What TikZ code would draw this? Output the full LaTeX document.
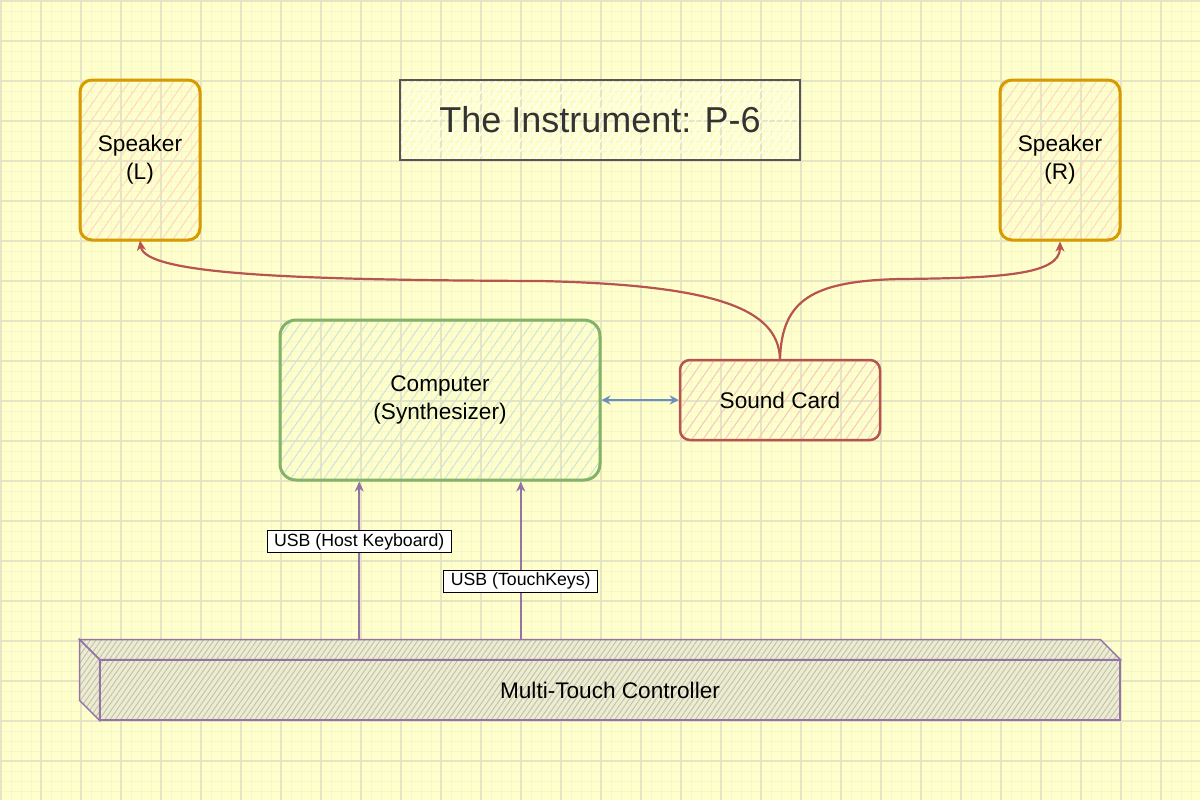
\documentclass[tikz,border=0pt]{standalone}
\usepackage{fontspec}
\setmainfont{Liberation Sans}
\usetikzlibrary{arrows.meta,patterns.meta,calc}

\definecolor{paper}{HTML}{FFFFCC}
\definecolor{gridmaj}{HTML}{E5E5C3}
\definecolor{gridmin}{HTML}{F6F6CB}
\definecolor{spkline}{HTML}{D79B00}
\definecolor{spkhatch}{HTML}{FFD6C8}
\definecolor{pcline}{HTML}{82B366}
\definecolor{pchatch}{HTML}{CBE4DA}
\definecolor{sndline}{HTML}{B85450}
\definecolor{sndhatch}{HTML}{F6C6C4}
\definecolor{ctrlline}{HTML}{9673A6}
\definecolor{ctrlhatch}{HTML}{C2C29C}
\definecolor{ctrlfill}{HTML}{ECECD6}
\definecolor{linkblue}{HTML}{6C8EBF}
\definecolor{titleline}{HTML}{555555}
\definecolor{titletext}{HTML}{333333}

\tikzset{
  box/.style={rectangle, rounded corners=#1, align=center, inner sep=0pt,
    font=\fontsize{11.3}{14}\selectfont},
  speaker/.style={box=6pt, draw=spkline, line width=1.5pt,
    minimum width=60pt, minimum height=80pt,
    pattern={Lines[angle=55,distance=4.5pt,line width=0.5pt]}, pattern color=spkhatch},
  synth/.style={box=8pt, draw=pcline, line width=1.5pt,
    minimum width=160pt, minimum height=80pt,
    pattern={Lines[angle=55,distance=4.5pt,line width=0.5pt]}, pattern color=pchatch},
  soundcard/.style={box=5pt, draw=sndline, line width=1.25pt,
    minimum width=100pt, minimum height=40pt,
    pattern={Lines[angle=55,distance=4.5pt,line width=0.5pt]}, pattern color=sndhatch},
  titlebox/.style={box=0pt, draw=titleline, line width=0.75pt, text=titletext,
    minimum width=200pt, minimum height=40pt, font=\fontsize{18}{22}\selectfont,
    pattern={Lines[angle=55,distance=3pt,line width=0.6pt]}, pattern color=white!85!paper},
  cube/.style={draw=ctrlline, line width=0.75pt, preaction={fill=ctrlfill},
    pattern={Lines[angle=55,distance=2.2pt,line width=0.45pt]}, pattern color=ctrlhatch},
  usblabel/.style={draw=black, line width=0.5pt, fill=white, inner xsep=3.5pt,
    inner ysep=0pt, minimum height=11pt, font=\fontsize{8.85}{10.6}\selectfont},
  usb/.style={draw=ctrlline, line width=1pt, -{Stealth[length=5pt,width=4.5pt,inset=1.5pt]}},
  audio/.style={draw=sndline, line width=1.1pt, -{Stealth[length=5pt,width=4.5pt,inset=1.5pt]}},
  link/.style={draw=linkblue, line width=1pt,
    {Stealth[length=4.5pt,width=4.5pt,inset=1.5pt]}-{Stealth[length=4.5pt,width=4.5pt,inset=1.5pt]}},
}

\begin{document}
\begin{tikzpicture}[x=0.5pt, y=-0.5pt]

    % paper
    \useasboundingbox (0,0) rectangle (1200,800);
    \fill[paper] (0,0) rectangle (1200,800);
    \foreach \g in {1,11,...,1191} \draw[gridmin, line width=0.4pt] (\g,0) -- (\g,800);
    \foreach \g in {1,11,...,791} \draw[gridmin, line width=0.4pt] (0,\g) -- (1200,\g);
    \foreach \g in {1,41,...,1161} \draw[gridmaj, line width=0.6pt] (\g,0) -- (\g,800);
    \foreach \g in {1,41,...,761} \draw[gridmaj, line width=0.6pt] (0,\g) -- (1200,\g);

    % nodes
    \node[speaker] (spkL) at (140,160) {Speaker\\(L)};
    \node[speaker] (spkR) at (1060,160) {Speaker\\(R)};
    \node[titlebox] (title) at (600,120) {The Instrument: P-6};
    \node[synth] (comp) at (440,400) {Computer\\(Synthesizer)};
    \node[soundcard] (snd) at (780,400) {Sound Card};
    \node[cube, box=0pt, minimum width=510pt, minimum height=30pt] (ctrl) at (610,690) {Multi-Touch Controller};

    % controller depth (top and left faces)
    \coordinate (ctrlback) at ($(ctrl.north west)+(-20,-20)$);
    \path[cube] (ctrlback) -- ($(ctrl.north east)+(-20,-20)$) -- (ctrl.north east) -- (ctrl.north west) -- cycle;
    \path[cube] (ctrlback) -- (ctrl.north west) -- (ctrl.south west) -- ($(ctrl.south west)+(-20,-20)$) -- cycle;
    \coordinate (ctrltop) at ($(ctrl.north)+(-20,-20)$);

    % paths
    \coordinate (usbA) at ($(comp.south west)!0.25!(comp.south east)$);
    \coordinate (usbB) at ($(comp.south west)!0.75!(comp.south east)$);
    \draw[usb] (ctrltop -| usbA) -- (usbA) node[usblabel, pos=0.62] {USB (Host Keyboard)}; % controller -> computer
    \draw[usb] (ctrltop -| usbB) -- (usbB) node[usblabel, pos=0.37] {USB (TouchKeys)}; % controller -> computer
    \draw[link] (comp.east) -- (snd.west); % computer <-> sound card
    \draw[audio] (snd.north) .. controls (778,310) and (720,285) .. (540,281)
        .. controls (300,280) and (145,275) .. (spkL.south); % sound card -> speaker L
    \draw[audio] (snd.north) .. controls (782,300) and (812,281) .. (900,279)
        .. controls (1000,278) and (1060,275) .. (spkR.south); % sound card -> speaker R

\end{tikzpicture}
\end{document}
